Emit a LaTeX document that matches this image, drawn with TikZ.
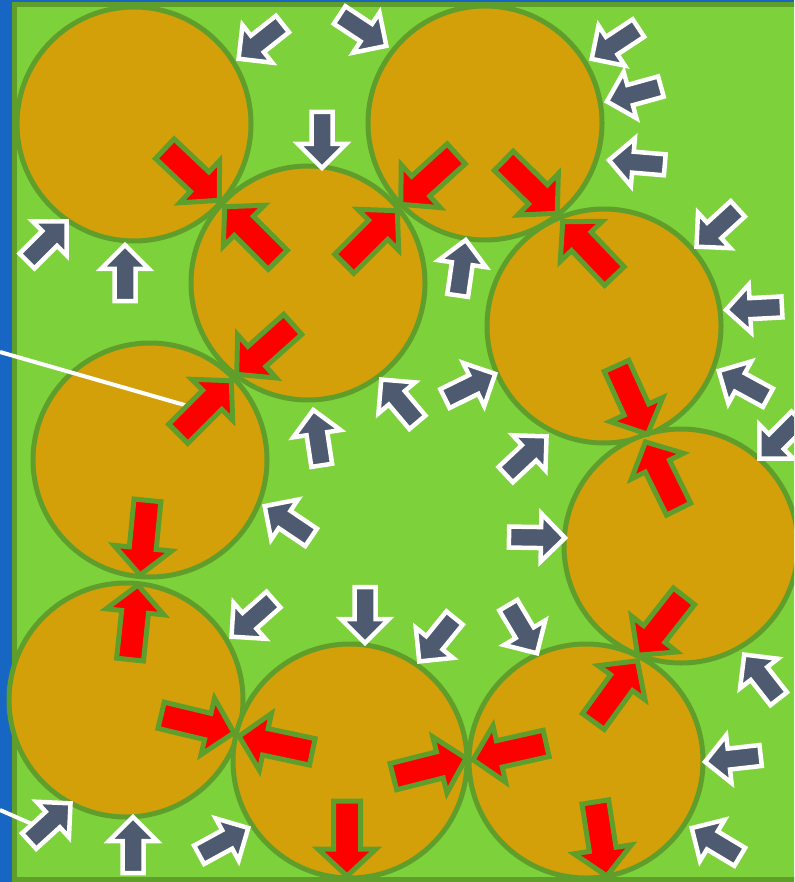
\documentclass[tikz,border=0pt]{standalone}
\usetikzlibrary{calc}
\definecolor{bgblue}{HTML}{1766C4}
\definecolor{bggreen}{HTML}{7DD13B}
\definecolor{olgreen}{HTML}{5F9E2A}
\definecolor{ballfill}{HTML}{D4A00A}
\definecolor{arrgray}{HTML}{4E5A70}
\tikzset{
  ball/.style={fill=ballfill, draw=olgreen, line width=5pt},
  redstyle/.style={fill=red, draw=olgreen, line width=5pt, line join=miter, miter limit=10},
  graystyle/.style={fill=arrgray, draw=white, line width=4.5pt, line join=miter, miter limit=10},
  leader/.style={draw=white, line width=4pt}
}
% #1 style, #2 tail, #3 tip, #4 length, #5 half shaft, #6 half head, #7 head length, #8 tip inset
\newcommand\blkarr[8]{%
  \coordinate (aT) at ($(#3)!#8!(#2)$);
  \coordinate (aS) at ($(#3)!#4!(#2)$);
  \coordinate (aH) at ($(aT)!#7!(aS)$);
  \path[#1] (aT) -- ($(aH)!#6!90:(aT)$) -- ($(aH)!#5!90:(aT)$) -- ($(aS)!#5!90:(aT)$)
     -- ($(aS)!#5!-90:(aT)$) -- ($(aH)!#5!-90:(aT)$) -- ($(aH)!#6!-90:(aT)$) -- cycle;
}
\newcommand\redarr[2]{\blkarr{redstyle}{#1}{#2}{76pt}{13.5pt}{29pt}{27pt}{1pt}}
\newcommand\grayarr[2]{\blkarr{graystyle}{#1}{#2}{58pt}{10.5pt}{24pt}{24pt}{2pt}}
\begin{document}
\begin{tikzpicture}[x=1pt,y=-1pt]
\useasboundingbox (0,0) rectangle (794,882);
\clip (0,0) rectangle (794,882);
\fill[bgblue] (0,0) rectangle (794,882);
\draw[fill=bggreen, draw=olgreen, line width=5pt] (14.5,4.5) rectangle (810,879.5);
% balls
\draw[ball] (134,124) circle (117pt);
\draw[ball] (308,283) circle (117pt);
\draw[ball] (485,123) circle (117pt);
\draw[ball] (604,326) circle (117pt);
\draw[ball] (150,460) circle (117pt);
\draw[ball] (681,546) circle (117pt);
\draw[ball] (126,700) circle (117pt);
\draw[ball] (350,761) circle (117pt);
\draw[ball] (586,761) circle (117pt);
% leader line
\draw[leader] (0,352) -- (195,408);
% red contact arrows
\redarr{163,147}{220,201}
\redarr{280,262}{224,206}
\redarr{455,155}{400,205}
\redarr{343,265}{398,210}
\redarr{503,160}{558,214}
\redarr{620,282}{562,221}
\redarr{292,325}{236,375}
\redarr{177,435}{232,380}
\redarr{147,505}{140,576}
\redarr{130,660}{138,584}
\redarr{617,367}{648,435}
\redarr{680,512}{645,441}
\redarr{685,595}{637,656}
\redarr{593,722}{638,660}
\redarr{160,715}{235,733}
\redarr{313,752}{238,736}
\redarr{388,778}{467,758}
\redarr{548,743}{472,760}
\redarr{347,802}{347,877}
\redarr{595,800}{607,877}
% second leader line
\draw[leader] (0,810) -- (32,824);
% gray arrows
\grayarr{285,22}{237,60}
\grayarr{335,12}{388,47}
\grayarr{640,27}{590,60}
\grayarr{663,86}{605,102}
\grayarr{667,165}{607,160}
\grayarr{742,205}{695,248}
\grayarr{781,307}{724,310}
\grayarr{772,400}{717,370}
\grayarr{800,418}{758,460}
\grayarr{25,263}{68,220}
\grayarr{125,302}{125,243}
\grayarr{322,108}{322,170}
\grayarr{457,300}{466,238}
\grayarr{318,542}{263,505}
\grayarr{322,467}{313,408}
\grayarr{418,423}{380,378}
\grayarr{442,400}{497,373}
\grayarr{500,480}{548,435}
\grayarr{507,537}{567,538}
\grayarr{273,600}{230,638}
\grayarr{365,585}{365,645}
\grayarr{457,615}{418,663}
\grayarr{507,603}{538,655}
\grayarr{782,703}{743,653}
\grayarr{765,755}{703,762}
\grayarr{745,860}{690,827}
\grayarr{27,843}{72,802}
\grayarr{133,877}{133,815}
\grayarr{195,857}{250,827}
\end{tikzpicture}
\end{document}
